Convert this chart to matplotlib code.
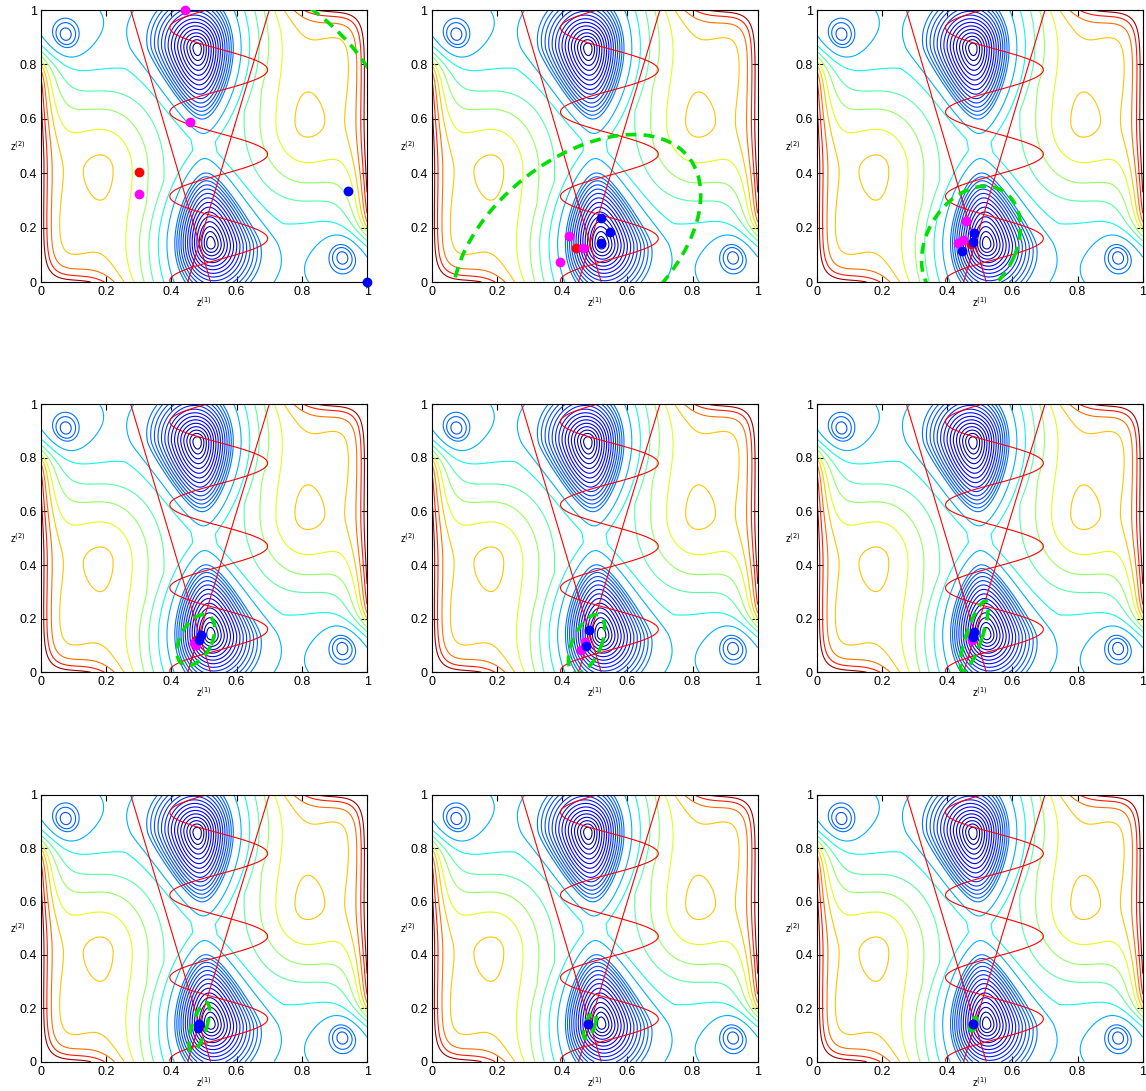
import numpy as np
import matplotlib.pyplot as plt
from matplotlib.patches import Ellipse

plt.rcParams['font.family'] = ['Liberation Sans', 'DejaVu Sans']

# iterates shown in each of the nine panels (row by row)
magenta_x = [[0.443, 0.456, 0.301], [0.422, 0.465, 0.393], [0.457, 0.434, 0.450],
             [0.470, 0.475], [0.469, 0.458], [0.475], [], [], []]
magenta_y = [[1.000, 0.589, 0.325], [0.169, 0.124, 0.074], [0.225, 0.145, 0.154],
             [0.110, 0.100], [0.114, 0.083], [0.120], [], [], []]
red_x = [[0.301], [0.444], [0.473], [0.475], [0.474], [0.480], [0.483], [0.480], [0.480]]
red_y = [[0.403], [0.124], [0.140], [0.120], [0.100], [0.140], [0.135], [0.140], [0.140]]
blue_x = [[0.941, 1.000], [0.518, 0.547, 0.520], [0.483, 0.480, 0.447],
          [0.490, 0.485], [0.482, 0.474], [0.482, 0.478], [0.483, 0.480], [0.480], [0.480]]
blue_y = [[0.335, 0.000], [0.234, 0.185, 0.145], [0.181, 0.147, 0.113],
          [0.140, 0.120], [0.158, 0.098], [0.150, 0.130], [0.140, 0.125], [0.140], [0.140]]

# trust regions: centre, full width / height, angle (deg)
tr_cx = [0.301, 0.445, 0.473, 0.475, 0.475, 0.483, 0.485, 0.485, 0.480]
tr_cy = [0.403, 0.130, 0.140, 0.120, 0.105, 0.135, 0.130, 0.135, 0.140]
tr_w = [1.60, 0.96, 0.44, 0.20, 0.23, 0.27, 0.19, 0.10, 0.05]
tr_h = [1.60, 0.58, 0.28, 0.10, 0.09, 0.05, 0.045, 0.03, 0.02]
tr_ang = [0, 50, 70, 70, 72, 75, 76, 75, 75]

well_levels = np.linspace(0.03, 0.24, 15)
outer_levels = [0.30, 0.37, 0.45, 0.53, 0.62, 0.70, 0.79, 0.88, 0.97]
ticks = [0, 0.2, 0.4, 0.6, 0.8, 1]
tick_labels = ['0', '0.2', '0.4', '0.6', '0.8', '1']


def half_field(x, y):
    sx = np.where(x < 0.19, 0.14, 0.12)
    gy = np.where(y > 0.41, np.exp(-0.5 * ((y - 0.41) / 0.2) ** 2),
                  1 - 0.13 * (1 - np.exp(-0.5 * ((y - 0.41) / 0.12) ** 2)))
    bump = 0.37 * np.exp(-0.5 * ((x - 0.19) / sx) ** 2) * gy
    side = 0.59 * np.exp(-x / 0.04) / (1 + np.exp((y - 0.82) / 0.03))
    floor = 0.40 * np.exp(-y / 0.05) / (1 + np.exp((x - 0.2) / 0.04))
    r2 = (x - 0.075) ** 2 + (y - 0.9) ** 2
    pit = (0.085 * np.exp(-0.5 * ((x - 0.075) / 0.04) ** 2 - 0.5 * ((y - 0.9) / 0.06) ** 2)
           + 0.07 * np.exp(-r2 / (2 * 0.15 ** 2)))
    dy = y - 0.14
    up = dy > 0
    dx = x - 0.52 + np.where(up, 0.06 * dy, 0.0)
    w = np.where(up, 0.25 * np.clip(1 - (np.abs(dy) / 0.42) ** 1.5, 0.02, None), 0.25)
    t = np.where(up, dy / 0.55 + (np.abs(dy) / 0.5) ** 4, -dy / 0.35)
    rho = np.sqrt((dx / w) ** 2 + t ** 2)
    well = 0.34 * np.clip(1 - rho, 0, None) ** 1.3
    return bump + side + floor - pit - well


g = np.linspace(0, 1, 501)
X, Y = np.meshgrid(g, g)
F = 0.34 + half_field(X, Y) + half_field(1 - X, 1 - Y)

# constraint boundaries
C_wave = X - 0.545 + 0.15 * np.cos(2 * np.pi * (Y - 0.005) / 0.31)
C_line1 = X - (0.52 - 0.245 * Y)
C_line2 = X - (0.45 + 0.25 * Y)

fig = plt.figure(figsize=(11.46, 10.91), dpi=100)
lefts = [0.0358, 0.3767, 0.7127]
bottoms = [0.7415, 0.3838, 0.0269]
heights = [0.2493, 0.2457, 0.2445]

for k in range(9):
    r, c = divmod(k, 3)
    ax = fig.add_axes([lefts[c], bottoms[r], 0.2845, heights[r]])
    ax.contour(X, Y, F, levels=well_levels, cmap='jet', vmin=0, vmax=1, linewidths=0.8)
    ax.contour(X, Y, F, levels=outer_levels, cmap='jet', vmin=0, vmax=1, linewidths=0.8)
    for C in (C_wave, C_line1, C_line2):
        ax.contour(X, Y, C, levels=[0], colors='red', linewidths=0.8)
    ax.add_patch(Ellipse((tr_cx[k], tr_cy[k]), tr_w[k], tr_h[k], angle=tr_ang[k],
                         fill=False, edgecolor='#00e000', lw=2.6, ls=(0, (3, 2)), zorder=4))
    ax.plot(red_x[k], red_y[k], 'o', color='red', ms=6, clip_on=False, zorder=5)
    ax.plot(magenta_x[k], magenta_y[k], 'o', color='magenta', ms=6, clip_on=False, zorder=6)
    ax.plot(blue_x[k], blue_y[k], 'o', color='blue', ms=6, clip_on=False, zorder=7)
    ax.set_xlim(0, 1)
    ax.set_ylim(0, 1)
    ax.set_xticks(ticks)
    ax.set_xticklabels(tick_labels)
    ax.set_yticks(ticks)
    ax.set_yticklabels(tick_labels)
    ax.tick_params(direction='in', top=True, right=True, length=4, labelsize=9, pad=3)
    ax.text(0.5, -0.075, 'z$^{(1)}$', transform=ax.transAxes, ha='center', va='center', fontsize=7)
    ax.text(-0.072, 0.5, 'z$^{(2)}$', transform=ax.transAxes, ha='center', va='center', fontsize=7)

fig.savefig('out.png', dpi=100)
